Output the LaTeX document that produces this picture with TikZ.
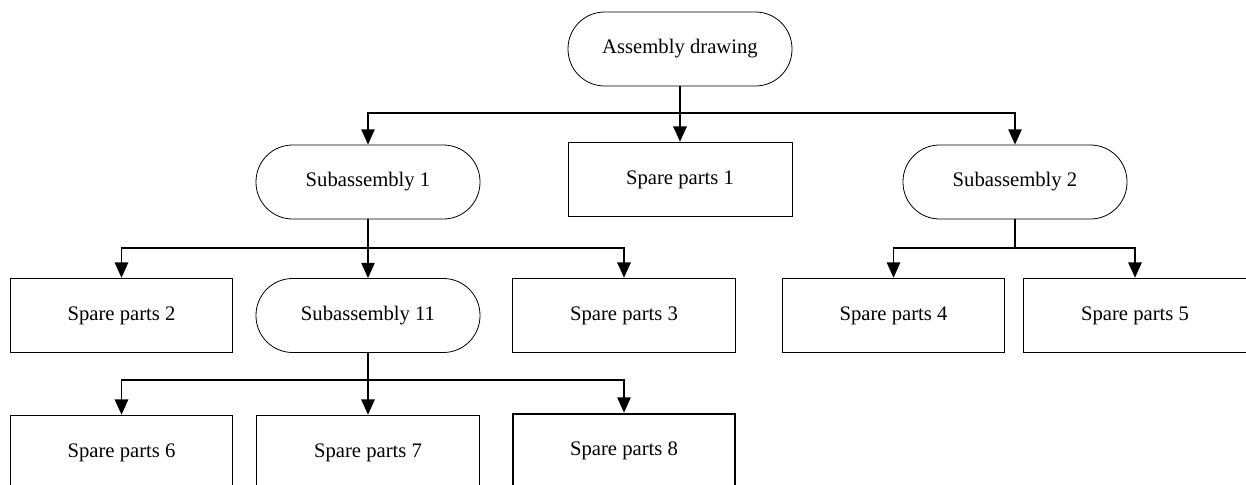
\documentclass[tikz,border=0pt]{standalone}
\usepackage{fontspec}
\setmainfont{Liberation Serif}
\usetikzlibrary{arrows.meta}

\tikzset{
  unit/.style={draw, line width=0.6pt, rounded corners=27.5pt, minimum width=168pt, minimum height=55.5pt, inner sep=0pt},
  part/.style={draw, line width=0.6pt, minimum width=167pt, minimum height=56pt, inner sep=0pt},
  conn/.style={line width=1.3pt, -{Triangle[width=10pt,length=11.5pt]}},
}

\begin{document}
\begin{tikzpicture}[x=0.75pt, y=-0.75pt, font=\fontsize{15.5}{18}\selectfont]
  \useasboundingbox (0,0) rectangle (1246,485);
  \clip (0,0) rectangle (1246,485);

  % top level
  \node[unit] (asm) at (680, 49){Assembly drawing};

  % second level
  \node[unit] (sub1) at (368, 182){Subassembly 1};
  \node[part, minimum width=168pt] (sp1) at (680, 179.5){Spare parts 1};
  \node[unit] (sub2) at (1015, 182){Subassembly 2};

  % third level
  \node[part] (sp2) at (121.5, 315.5){Spare parts 2};
  \node[unit] (sub11) at (368, 315.5){Subassembly 11};
  \node[part] (sp3) at (624, 315.5){Spare parts 3};
  \node[part] (sp4) at (893.5, 315.5){Spare parts 4};
  \node[part] (sp5) at (1135, 315.5){Spare parts 5};

  % fourth level
  \node[part] (sp6) at (121.5, 452.5){Spare parts 6};
  \node[part] (sp7) at (368, 452.5){Spare parts 7};
  \node[part, line width=1.5pt] (sp8) at (624, 451){Spare parts 8};

  % bus lines
  \coordinate (b1) at (0, 113);
  \coordinate (b2) at (0, 248);
  \coordinate (b3) at (0, 380);

  % connectors
  \foreach \c in {sub1, sp1, sub2}
    \draw[conn] (asm.south) |- (b1 -| \c) -- (\c);
  \foreach \c in {sp2, sub11, sp3}
    \draw[conn] (sub1.south) |- (b2 -| \c) -- (\c);
  \foreach \c in {sp4, sp5}
    \draw[conn] (sub2.south) |- (b2 -| \c) -- (\c);
  \foreach \c in {sp6, sp7, sp8}
    \draw[conn] (sub11.south) |- (b3 -| \c) -- (\c);

\end{tikzpicture}
\end{document}
